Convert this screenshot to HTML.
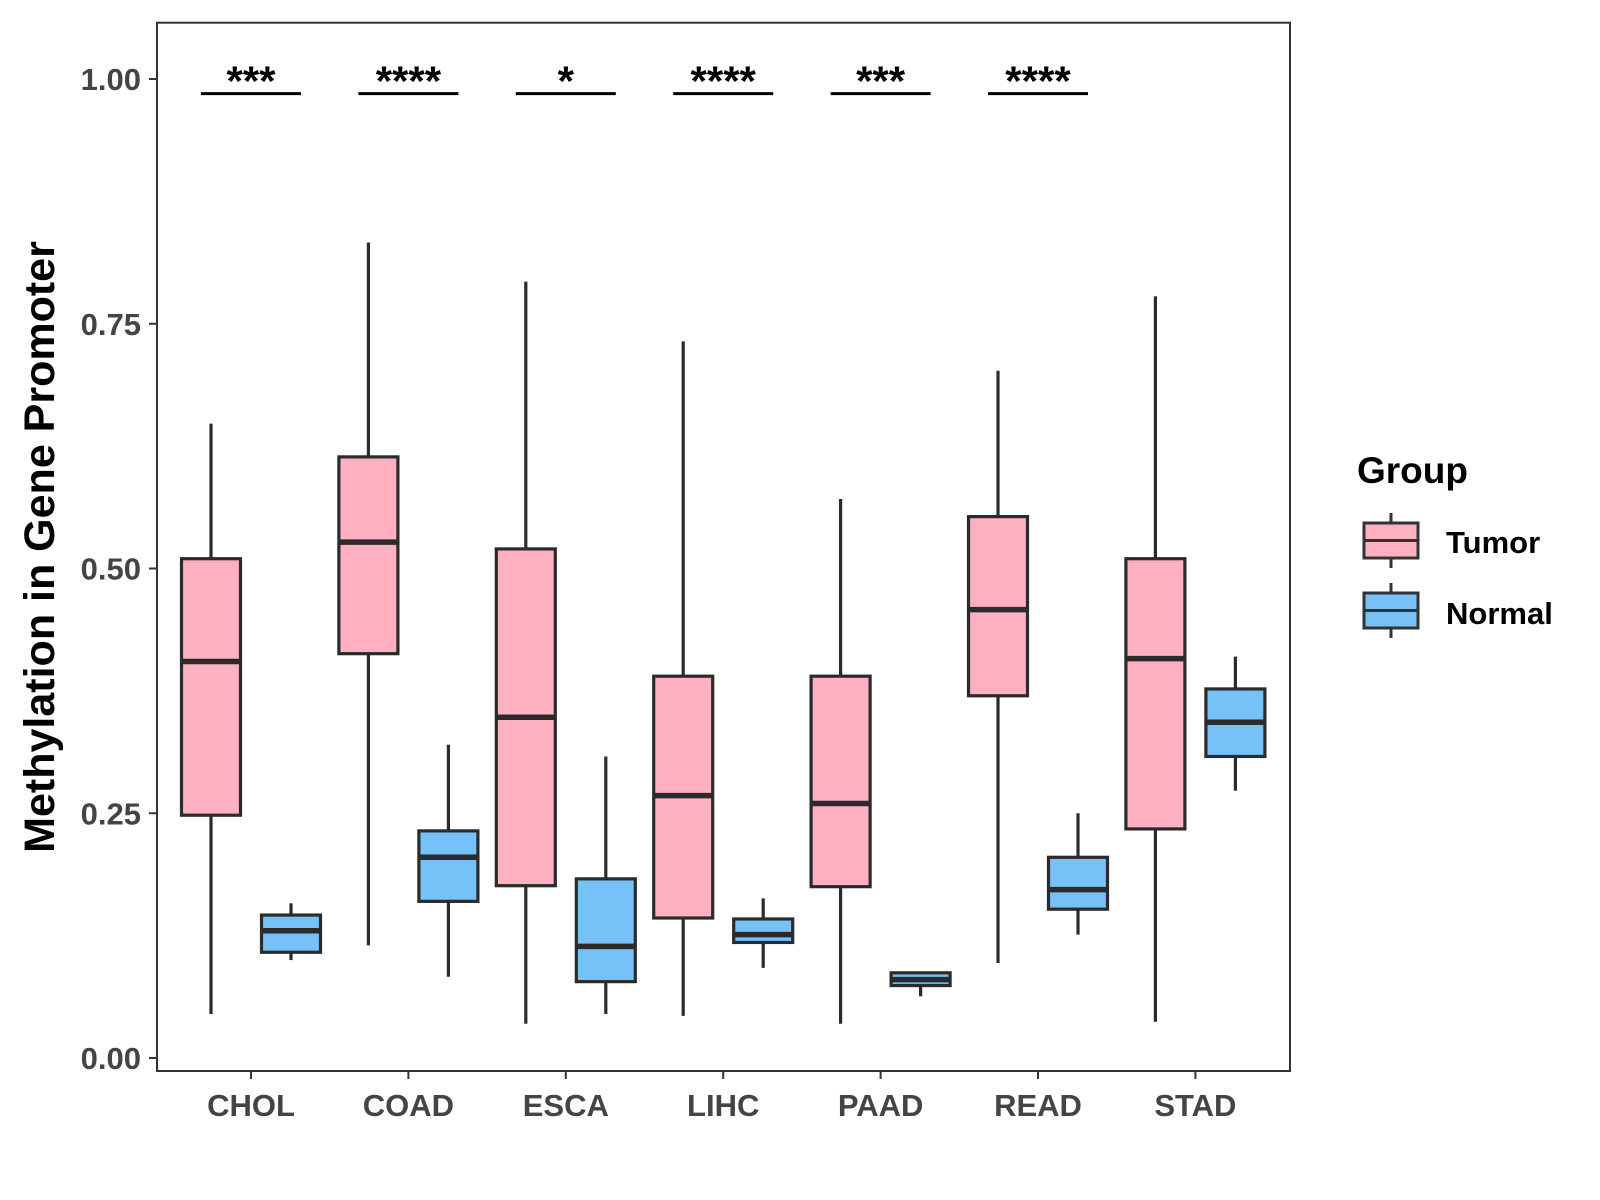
<!DOCTYPE html>
<html><head><meta charset="utf-8"><style>
html,body{margin:0;padding:0;background:#fff;}
svg{display:block;font-family:"Liberation Sans",Arial,sans-serif;}
</style></head><body>
<svg id="chart" width="1600" height="1200" viewBox="0 0 1600 1200">
<rect x="0" y="0" width="1600" height="1200" fill="#fff"/>
<g id="marks"></g>
<rect x="157" y="22.7" width="1133" height="1048.3" fill="none" stroke="#333" stroke-width="2"/>
<g id="axes"></g>
<text transform="translate(54,547) rotate(-90)" text-anchor="middle" font-size="43" font-weight="bold" fill="#000">Methylation in Gene Promoter</text>
<g>
<text x="1357" y="483" font-size="37" font-weight="bold" fill="#000">Group</text>
<g>
<line x1="1391" y1="513" x2="1391" y2="568" stroke="#333" stroke-width="3"/>
<rect x="1364" y="523" width="54" height="35" fill="#FFB1C1" stroke="#333" stroke-width="3"/>
<line x1="1364" y1="540.5" x2="1418" y2="540.5" stroke="#333" stroke-width="3"/>
<text x="1446" y="553" font-size="31" font-weight="bold" fill="#000">Tumor</text>
</g>
<g>
<line x1="1391" y1="583" x2="1391" y2="638" stroke="#333" stroke-width="3"/>
<rect x="1364" y="593" width="54" height="35" fill="#76C1F7" stroke="#333" stroke-width="3"/>
<line x1="1364" y1="610.5" x2="1418" y2="610.5" stroke="#333" stroke-width="3"/>
<text x="1446" y="624" font-size="31" font-weight="bold" fill="#000">Normal</text>
</g>
</g>
</svg>
<script>
const categories = ["CHOL","COAD","ESCA","LIHC","PAAD","READ","STAD"];
// [lower whisker, q1, median, q3, upper whisker]
const tumorStats = [
 [0.045,0.248,0.405,0.510,0.648],
 [0.115,0.413,0.527,0.614,0.833],
 [0.035,0.176,0.348,0.520,0.793],
 [0.043,0.143,0.268,0.390,0.732],
 [0.035,0.175,0.260,0.390,0.571],
 [0.097,0.370,0.458,0.553,0.702],
 [0.037,0.234,0.408,0.510,0.778]
];
const normalStats = [
 [0.100,0.108,0.130,0.146,0.158],
 [0.083,0.160,0.205,0.232,0.320],
 [0.045,0.078,0.114,0.183,0.308],
 [0.092,0.118,0.126,0.142,0.163],
 [0.063,0.074,0.080,0.087,0.088],
 [0.126,0.152,0.172,0.205,0.250],
 [0.273,0.308,0.343,0.377,0.410]
];
const signifLabels = ["***","****","*","****","***","****",""];
const yTicks = [0,0.25,0.5,0.75,1];
const yTickLabels = ["0.00","0.25","0.50","0.75","1.00"];

const NS="http://www.w3.org/2000/svg";
function y(v){return 1058 - v*979;}
function x(i){return 251 + i*157.4;}
const marks=document.getElementById('marks');
const axes=document.getElementById('axes');
function mk(tag,attrs,parent){const e=document.createElementNS(NS,tag);for(const k in attrs)e.setAttribute(k,attrs[k]);parent.appendChild(e);return e;}

function drawBox(cx,s,fill,name){
  const g=mk('g',{},marks);
  
  
  const w=59;
  mk('line',{x1:cx,x2:cx,y1:y(s[0]),y2:y(s[4]),stroke:'#2b2b2b','stroke-width':3.2},g);
  mk('rect',{x:cx-w/2,y:y(s[3]),width:w,height:Math.max(0,y(s[1])-y(s[3])),fill:fill,stroke:'#2b2b2b','stroke-width':3.2},g);
  mk('line',{x1:cx-w/2,x2:cx+w/2,y1:y(s[2]),y2:y(s[2]),stroke:'#2b2b2b','stroke-width':5.5},g);
}
categories.forEach((c,i)=>{
  drawBox(x(i)-40,tumorStats[i],'#FFB1C1','box-tumor-'+c.toLowerCase());
  drawBox(x(i)+40,normalStats[i],'#76C1F7','box-normal-'+c.toLowerCase());
  if(signifLabels[i]){
    const ln=mk('line',{x1:x(i)-50,x2:x(i)+50,y1:y(0.985),y2:y(0.985),stroke:'#000','stroke-width':3},marks);
    
    
    const t=mk('text',{x:x(i),y:y(0.985)+2,'text-anchor':'middle','font-size':42,'font-weight':'bold',fill:'#000'},marks);
    t.textContent=signifLabels[i];
    
    
  }
  mk('line',{x1:x(i),x2:x(i),y1:1071,y2:1079,stroke:'#333','stroke-width':2},axes);
  const xl=mk('text',{x:x(i),y:1116,'text-anchor':'middle','font-size':31,'font-weight':'bold',fill:'#444'},axes);
  xl.textContent=c;
  
  
});
yTicks.forEach((v,i)=>{
  mk('line',{x1:149,x2:157,y1:y(v),y2:y(v),stroke:'#333','stroke-width':2},axes);
  const t=mk('text',{x:141,y:y(v)+11,'text-anchor':'end','font-size':31,'font-weight':'bold',fill:'#444'},axes);
  t.textContent=yTickLabels[i];
  
  
});
</script>
</body></html>
